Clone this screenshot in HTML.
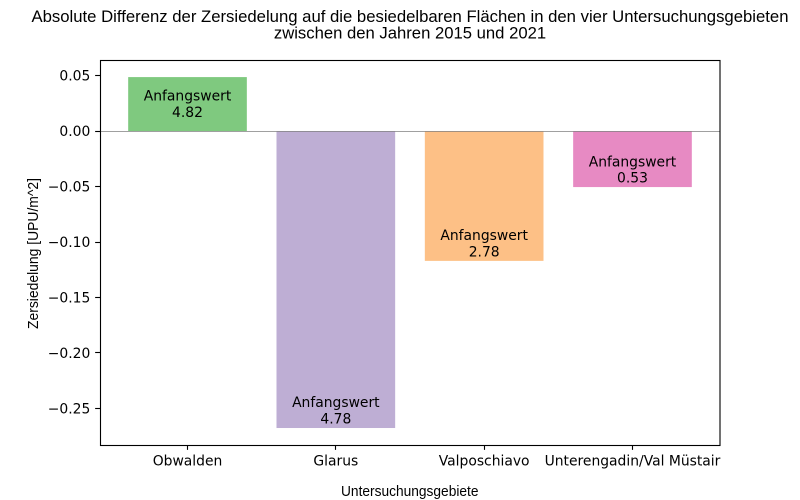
<!DOCTYPE html>
<html lang="de">
<head>
<meta charset="utf-8">
<title>Absolute Differenz der Zersiedelung</title>
<style>
html,body{margin:0;padding:0;background:#fff;}
svg{display:block;}
.sans{font-family:"Liberation Sans",Arial,sans-serif;fill:#000;}
.dv{font-family:"DejaVu Sans",sans-serif;font-size:13.89px;fill:#000;}
</style>
</head>
<body>
<svg id="chart" xmlns="http://www.w3.org/2000/svg" width="800" height="500" viewBox="0 0 800 500">
  <rect x="0" y="0" width="800" height="500" fill="#ffffff"/>
  <g>
    <text class="sans" x="410" y="22" font-size="16.67" text-anchor="middle" textLength="757" lengthAdjust="spacingAndGlyphs">Absolute Differenz der Zersiedelung auf die besiedelbaren Flächen in den vier Untersuchungsgebieten</text>
    <text class="sans" x="410" y="38.5" font-size="16.67" text-anchor="middle">zwischen den Jahren 2015 und 2021</text>
  </g>
  <g id="marks"></g>
  <rect x="100.5" y="60.5" width="619.5" height="385" fill="none" stroke="#000" stroke-width="1.11"/>
  <g id="axes"></g>
  <text class="sans" x="341" y="496" font-size="15" textLength="137.5" lengthAdjust="spacingAndGlyphs">Untersuchungsgebiete</text>
  <text class="sans" transform="translate(38 253.5) rotate(-90)" font-size="15" text-anchor="middle" textLength="151" lengthAdjust="spacingAndGlyphs">Zersiedelung [UPU/m^2]</text>
</svg>
<script>
const categories = ["Obwalden", "Glarus", "Valposchiavo", "Unterengadin/Val Müstair"];
const differences = [0.0486, -0.2676, -0.1170, -0.0505];
const startValues = ["4.82", "4.78", "2.78", "0.53"];
const barColors = ["#7fc97f", "#beaed4", "#fdc086", "#e78ac3"];
const yTicks = [0.05, 0, -0.05, -0.10, -0.15, -0.20, -0.25];
const yLimits = [-0.2829, 0.0640];
const annotationLabel = "Anfangswert";

const NS = "http://www.w3.org/2000/svg";
const plot = { left: 100, right: 720, top: 60, bottom: 445 };
const barWidthBand = 0.8;

const yDomainBottom = yLimits[0];
const yDomainTop = yLimits[1];
const xDomainLeft = -barWidthBand / 2 - 0.05 * (categories.length - 1 + barWidthBand);
const xDomainRight = categories.length - 1 + barWidthBand / 2 + 0.05 * (categories.length - 1 + barWidthBand);

function xScale(i) {
  return plot.left + (i - xDomainLeft) / (xDomainRight - xDomainLeft) * (plot.right - plot.left);
}
function yScale(v) {
  return plot.top + (yDomainTop - v) / (yDomainTop - yDomainBottom) * (plot.bottom - plot.top);
}
function snap(p) {
  return Math.floor(p) + 0.5;
}
function make(tag, attrs, parent, text) {
  const el = document.createElementNS(NS, tag);
  Object.keys(attrs).forEach(function (k) { el.setAttribute(k, attrs[k]); });
  if (text !== undefined) el.textContent = text;
  parent.appendChild(el);
  return el;
}
function formatTick(v) {
  const s = Math.abs(v).toFixed(2);
  return v < 0 ? "\u2212" + s : s;
}

const marks = document.getElementById("marks");
const axes = document.getElementById("axes");
const zeroY = yScale(0);
const bandPx = xScale(1) - xScale(0);

differences.forEach(function (value, i) {
  const cx = xScale(i);
  const w = bandPx * barWidthBand;
  const yEnd = yScale(value);
  const bar = make("rect", {
    x: cx - w / 2,
    y: Math.min(zeroY, yEnd),
    width: w,
    height: Math.abs(yEnd - zeroY),
    fill: barColors[i]
  }, marks);
  
  

  const baseline2 = value >= 0 ? yEnd + 39.7 : yEnd - 4.5;
  const line1 = make("text", { x: cx, y: baseline2 - 16.3, "text-anchor": "middle", "class": "dv" }, marks, annotationLabel);
  
  
  const line2 = make("text", { x: cx, y: baseline2, "text-anchor": "middle", "class": "dv" }, marks, startValues[i]);
  
  

  const tick = make("line", { x1: snap(cx), x2: snap(cx), y1: plot.bottom, y2: plot.bottom + 4.86, stroke: "#000", "stroke-width": 1.11 }, axes);
  
  
  const tickLabel = make("text", { x: cx, y: 465.5, "text-anchor": "middle", "class": "dv" }, axes, categories[i]);
  
  
});

const zeroLine = make("line", { x1: plot.left, x2: plot.right, y1: snap(zeroY), y2: snap(zeroY), stroke: "#808080", "stroke-opacity": 0.75, "stroke-width": 1 }, marks);



yTicks.forEach(function (v) {
  const y = yScale(v);
  const tick = make("line", { x1: plot.left - 4.86, x2: plot.left, y1: snap(y), y2: snap(y), stroke: "#000", "stroke-width": 1.11 }, axes);
  
  
  const label = make("text", { x: 90.3, y: y + 5.1, "text-anchor": "end", "class": "dv" }, axes, formatTick(v));
  
  
});
</script>
</body>
</html>
